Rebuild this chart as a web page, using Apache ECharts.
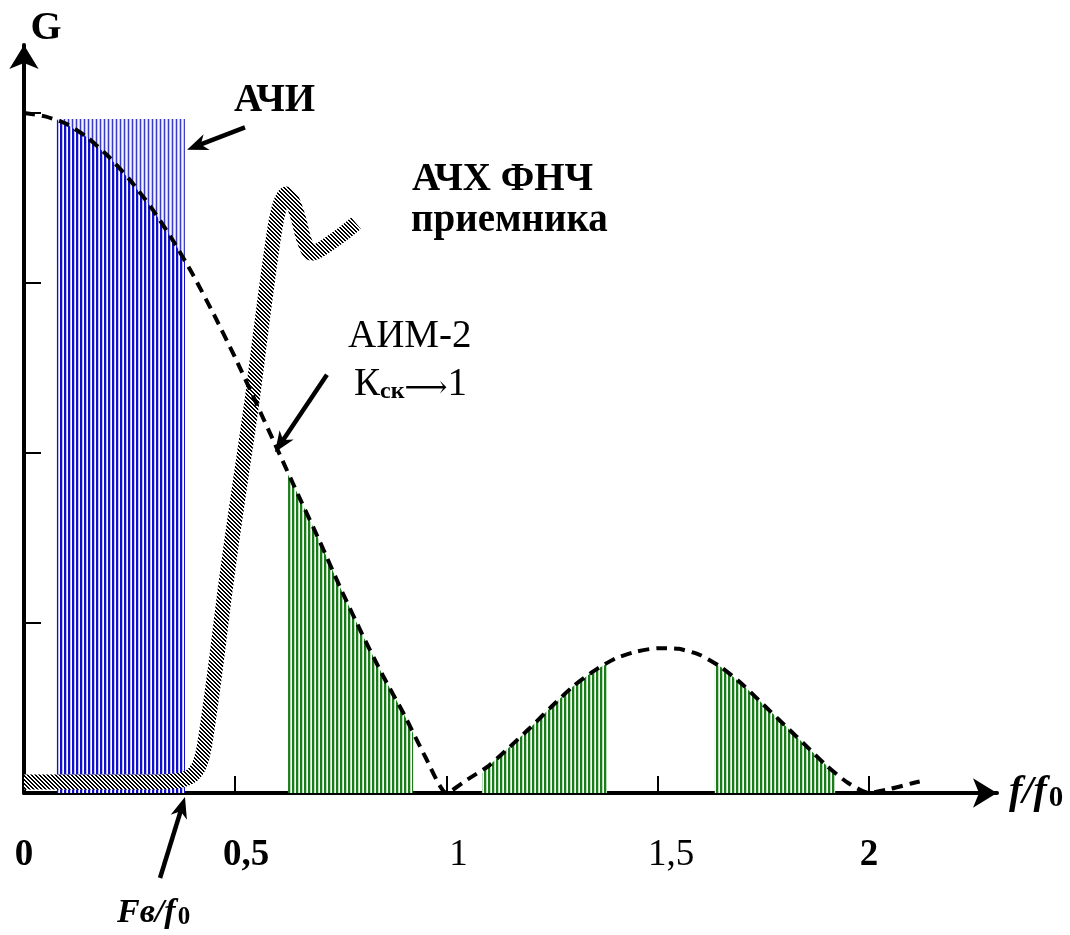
<!DOCTYPE html>
<html><head><meta charset="utf-8">
<script src="https://cdn.jsdelivr.net/npm/echarts@6/dist/echarts.min.js"></script>
<style>html,body{margin:0;padding:0;background:#fff}#c{width:1070px;height:935px}</style>
</head><body><div id="c"></div>
<script>
// ---------------- DATA ----------------
// sampling-spectrum envelope (dashed curve), f/f0 vs G
const curveX = [0,0.05,0.1,0.15,0.2,0.25,0.3,0.35,0.4,0.45,0.5,0.55,0.6,0.65,0.7,0.75,0.8,0.85,0.9,0.95,1.0,1.05,1.1,1.15,1.2,1.25,1.3,1.35,1.4,1.45,1.5,1.55,1.6,1.65,1.7,1.75,1.8,1.85,1.9,1.95,2.0,2.05,2.1,2.12];
const curveY = [1.0,0.995,0.984,0.964,0.936,0.902,0.862,0.815,0.762,0.703,0.64,0.573,0.505,0.437,0.37,0.30,0.234,0.172,0.115,0.053,0.0,0.02,0.04,0.068,0.097,0.128,0.157,0.18,0.198,0.208,0.213,0.212,0.203,0.185,0.16,0.13,0.10,0.07,0.04,0.015,0.0,0.006,0.014,0.017];
// АЧИ rectangle (pale part) and its part under the envelope
const achiX = [0.078, 0.381];
const achiY = [0.991, 0.991];
const achiUnderX = [0.078,0.1,0.15,0.2,0.25,0.3,0.35,0.381];
const achiUnderY = [0.99,0.984,0.964,0.936,0.902,0.862,0.815,0.784];
// green aliasing regions under the envelope
const green1X = [0.625,0.65,0.7,0.75,0.8,0.85,0.9,0.921];
const green1Y = [0.468,0.437,0.37,0.30,0.234,0.172,0.115,0.088];
const green2X = [1.084,1.1,1.15,1.2,1.25,1.3,1.35,1.38];
const green2Y = [0.029,0.04,0.068,0.097,0.128,0.157,0.18,0.19];
const green3X = [1.635,1.65,1.7,1.75,1.8,1.85,1.9,1.92];
const green3Y = [0.19,0.185,0.16,0.13,0.10,0.07,0.04,0.028];
// receiver LPF frequency response (hatched band)
const lpfX = [0,0.298,0.364,0.393,0.412,0.424,0.433,0.443,0.457,0.473,0.492,0.516,0.540,0.561,0.578,0.594,0.606,0.620,0.634,0.649,0.663,0.679,0.701,0.748,0.786];
const lpfY = [0.016,0.016,0.018,0.024,0.037,0.060,0.093,0.137,0.203,0.284,0.372,0.475,0.578,0.681,0.762,0.831,0.865,0.881,0.872,0.846,0.813,0.794,0.799,0.819,0.838];
// tick values and labels
const xTickValues = [0, 0.5, 1, 1.5, 2];
const xTickLabels = ['0', '0,5', '1', '1,5', '2'];
const xTickMarks = [0.5, 1, 1.5, 2];
const yTickMarks = [0.25, 0.5, 0.75, 1];

// ---------------- PRESENTATION ----------------
const SERIF = 'Liberation Serif, Times New Roman, serif';
function pairs(xs, ys) { return xs.map((x, i) => [x, ys[i]]); }
function stripes(colors) {
  const c = document.createElement('canvas');
  c.width = colors.length; c.height = 2;
  const ctx = c.getContext('2d');
  colors.forEach((col, i) => { ctx.fillStyle = col; ctx.fillRect(i, 0, 1, 2); });
  return { image: c, repeat: 'repeat' };
}
function hatch() {
  const n = 4, c = document.createElement('canvas');
  c.width = n; c.height = n;
  const ctx = c.getContext('2d');
  for (let x = 0; x < n; x++) for (let y = 0; y < n; y++) {
    const k = ((x - y) % n + n) % n;
    ctx.fillStyle = k < 2 ? '#000' : '#fff';
    ctx.fillRect(x, y, 1, 1);
  }
  return { image: c, repeat: 'repeat' };
}
const bluePale = stripes(['#3a3ac8', '#c4c4ee', '#f4f4fc', '#c4c4ee']);
const blueDense = stripes(['#1010cc', '#1010cc', '#c0c0f0', '#ffffff']);
const greenDense = stripes(['#1a7d1a', '#1a7d1a', '#b8dab8', '#ffffff']);
const hatchPat = hatch();

function area(xs, ys, pat, z) {
  return { type: 'line', data: pairs(xs, ys), symbol: 'none', showSymbol: false,
    lineStyle: { width: 0 }, areaStyle: { color: pat, opacity: 1 }, z: z,
    silent: true, emphasis: { disabled: true }, animation: false };
}
const labelKey = { '0': 'b', '0,5': 'bs', '1': 'rs', '1,5': 'rs2', '2': 'b' };

const chart = echarts.init(document.getElementById('c'), null, { renderer: 'canvas' });
const option = {
  backgroundColor: '#fff',
  animation: false,
  grid: { left: 24, right: 73, top: 45, bottom: 142 },
  xAxis: {
    type: 'value', min: 0, max: 2.303,
    splitLine: { show: false },
    axisLine: { show: true, onZero: false, symbol: ['none', 'arrow'], symbolSize: [22, 24],
      lineStyle: { color: '#000', width: 4 } },
    axisTick: { show: true, inside: true, length: 17, customValues: xTickMarks,
      lineStyle: { color: '#000', width: 2 } },
    axisLabel: {
      customValues: xTickValues, margin: 44,
      formatter: function (v) {
        const i = xTickValues.findIndex(t => Math.abs(t - v) < 1e-9);
        const s = i >= 0 ? xTickLabels[i] : '';
        return '{' + labelKey[s] + '|' + s + '}';
      },
      rich: {
        b: { fontFamily: SERIF, fontWeight: 'bold', fontSize: 37, lineHeight: 36, color: '#000' },
        bs: { fontFamily: SERIF, fontWeight: 'bold', fontSize: 37, lineHeight: 36, color: '#000', padding: [0, 0, 0, 22] },
        rs: { fontFamily: SERIF, fontWeight: 'normal', fontSize: 37, lineHeight: 36, color: '#000', padding: [0, 0, 0, 24] },
        rs2: { fontFamily: SERIF, fontWeight: 'normal', fontSize: 37, lineHeight: 36, color: '#000', padding: [0, 0, 0, 27] }
      }
    },
    name: '{i|f/f}{s|0}', nameLocation: 'end', nameGap: 12,
    nameTextStyle: {
      rich: {
        i: { fontFamily: SERIF, fontWeight: 'bold', fontStyle: 'italic', fontSize: 40, color: '#000', verticalAlign: 'bottom', lineHeight: 40 },
        s: { fontFamily: SERIF, fontWeight: 'bold', fontSize: 29, color: '#000', verticalAlign: 'bottom', lineHeight: 26, padding: [0, 0, 0, 2] }
      }
    }
  },
  yAxis: {
    type: 'value', min: 0, max: 1.1,
    splitLine: { show: false },
    axisLine: { show: true, onZero: false, symbol: ['none', 'arrow'], symbolSize: [22, 24],
      lineStyle: { color: '#000', width: 4 } },
    axisTick: { show: true, inside: true, length: 17, customValues: yTickMarks,
      lineStyle: { color: '#000', width: 2 } },
    axisLabel: { show: false },
    name: 'G', nameLocation: 'end', nameGap: -4,
    nameTextStyle: { fontFamily: SERIF, fontWeight: 'bold', fontSize: 40, color: '#000', padding: [0, 0, 0, 44] }
  },
  series: [
    area(achiX, achiY, bluePale, 1),
    area(achiUnderX, achiUnderY, blueDense, 2),
    area(green1X, green1Y, greenDense, 2),
    area(green2X, green2Y, greenDense, 2),
    area(green3X, green3Y, greenDense, 2),
    { type: 'line', data: pairs(lpfX, lpfY), symbol: 'none', showSymbol: false, smooth: 0.25,
      lineStyle: { width: 15, color: hatchPat, cap: 'butt', join: 'round' },
      z: 3, silent: true, emphasis: { disabled: true }, animation: false },
    { type: 'line', data: pairs(curveX, curveY), symbol: 'none', showSymbol: false, smooth: 0.2,
      lineStyle: { width: 4, color: '#000', type: [11, 7] },
      z: 4, silent: true, emphasis: { disabled: true }, animation: false }
  ]
};
chart.setOption(option);

// annotation arrows anchored in data coordinates
const arrows = [
  { from: [0.523, 0.979], to: [0.386, 0.946] },
  { from: [0.717, 0.615], to: [0.594, 0.501] },
  { from: [0.322, -0.125], to: [0.381, -0.006] }
];
const g = [];
arrows.forEach(a => {
  const p0 = chart.convertToPixel({ gridIndex: 0 }, a.from);
  const p1 = chart.convertToPixel({ gridIndex: 0 }, a.to);
  const dx = p1[0] - p0[0], dy = p1[1] - p0[1], len = Math.hypot(dx, dy);
  const ux = dx / len, uy = dy / len, px = -uy, py = ux;
  const L = 21, W = 17;
  const bx = p1[0] - ux * L, by = p1[1] - uy * L;
  const nx = p1[0] - ux * L * 0.7, ny = p1[1] - uy * L * 0.7;
  g.push({ type: 'line', shape: { x1: p0[0], y1: p0[1], x2: nx, y2: ny }, style: { stroke: '#000', lineWidth: 4.5 }, z: 10 });
  g.push({ type: 'polygon', shape: { points: [[p1[0], p1[1]], [bx + px * W / 2, by + py * W / 2], [nx, ny], [bx - px * W / 2, by - py * W / 2]] }, style: { fill: '#000' }, z: 10 });
});
function txt(x, y, text, font, rich) {
  const o = { type: 'text', x: x, y: y, z: 10, style: { text: text, fill: '#000', align: 'left', verticalAlign: 'middle', fontFamily: SERIF } };
  Object.assign(o.style, font);
  if (rich) o.style.rich = rich;
  return o;
}
g.push(txt(234, 101, 'АЧИ', { fontSize: 39, fontWeight: 'bold' }));
g.push(txt(412, 180, 'АЧХ ФНЧ', { fontSize: 39, fontWeight: 'bold' }));
g.push(txt(411, 221, 'приемника', { fontSize: 39, fontWeight: 'bold' }));
g.push(txt(348, 337, 'АИМ-2', { fontSize: 39, fontWeight: 'normal' }));
g.push(txt(354, 384, '{a|К}{s|ск}{r|⟶}{a|1}', { fontSize: 39 }, {
  a: { fontFamily: SERIF, fontSize: 39, color: '#000', verticalAlign: 'bottom', lineHeight: 40 },
  r: { fontFamily: 'DejaVu Serif, DejaVu Sans', fontSize: 30, color: '#000', verticalAlign: 'bottom', lineHeight: 38 },
  s: { fontFamily: SERIF, fontSize: 24, fontWeight: 'bold', color: '#000', verticalAlign: 'bottom', lineHeight: 22 }
}));
g.push(txt(117, 913, '{f|Fв/f}{s|0}', { fontSize: 34 }, {
  f: { fontFamily: SERIF, fontSize: 34, fontWeight: 'bold', fontStyle: 'italic', color: '#000', verticalAlign: 'bottom', lineHeight: 34 },
  s: { fontFamily: SERIF, fontSize: 25, fontWeight: 'bold', color: '#000', verticalAlign: 'bottom', lineHeight: 22, padding: [0, 0, 0, 2] }
}));
chart.setOption({ graphic: g });
</script>
</body></html>
